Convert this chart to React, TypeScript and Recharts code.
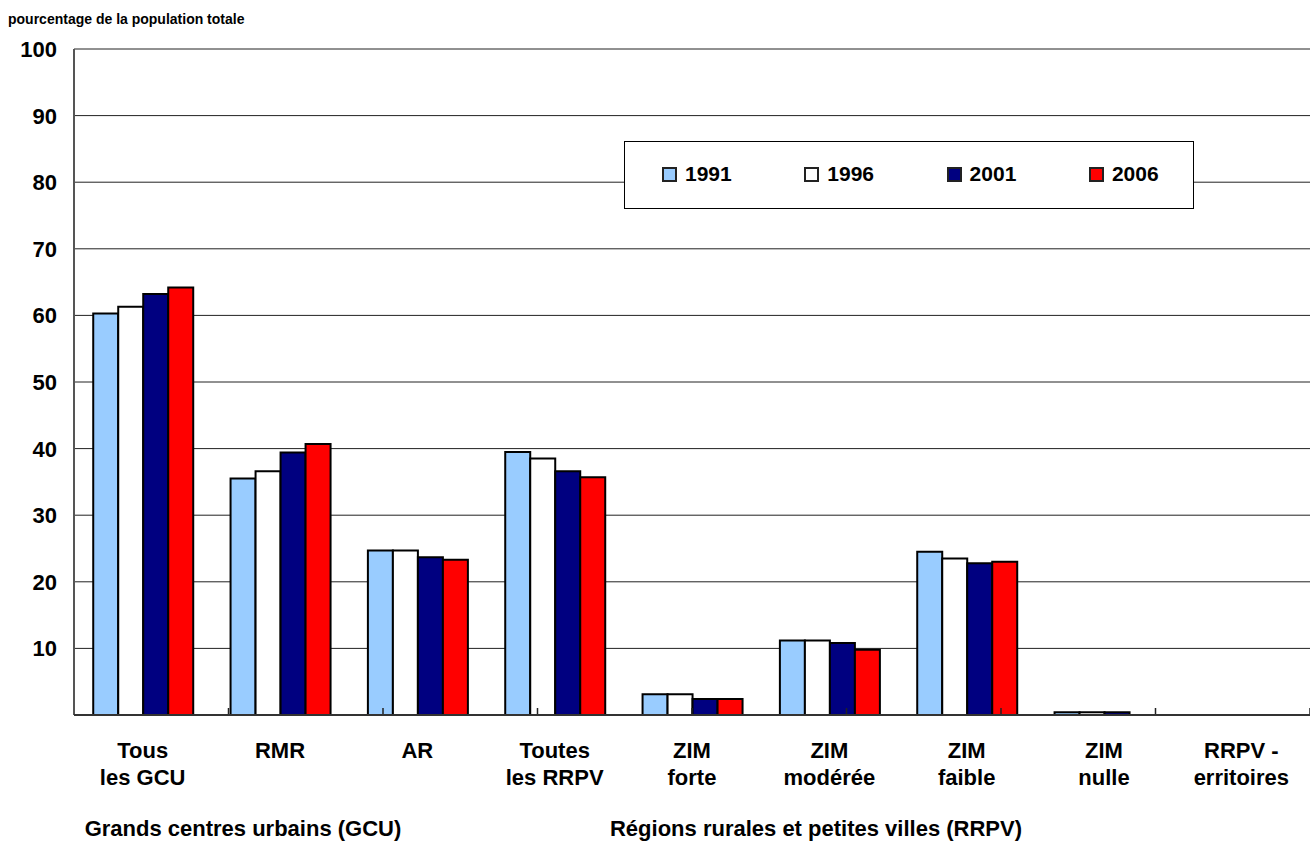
import React from "react";
import { BarChart, Bar, XAxis, YAxis, CartesianGrid } from "recharts";

// Catégories (deux lignes par étiquette)
const categoryLine1 = ["Tous", "RMR", "AR", "Toutes", "ZIM", "ZIM", "ZIM", "ZIM", "RRPV -"];
const categoryLine2 = ["les GCU", "", "", "les RRPV", "forte", "modérée", "faible", "nulle", "erritoires"];

// Pourcentage de la population totale par année
const v1991 = [60.3, 35.5, 24.7, 39.5, 3.1, 11.2, 24.5, 0.4, 0];
const v1996 = [61.3, 36.6, 24.7, 38.5, 3.1, 11.2, 23.5, 0.4, 0];
const v2001 = [63.2, 39.4, 23.7, 36.6, 2.4, 10.8, 22.8, 0.4, 0];
const v2006 = [64.2, 40.7, 23.3, 35.7, 2.4, 9.8, 23.0, 0, 0];

const yTicks = [10, 20, 30, 40, 50, 60, 70, 80, 90, 100];
const boundaryTicks = [1, 2, 3, 4, 5, 6, 7, 8];

const series = [
  { key: "y1991", name: "1991", color: "#99CCFF" },
  { key: "y1996", name: "1996", color: "#FFFFFF" },
  { key: "y2001", name: "2001", color: "#000080" },
  { key: "y2006", name: "2006", color: "#FF0000" },
];

const data = categoryLine1.map((l1, i) => ({
  cat: i,
  l1,
  l2: categoryLine2[i],
  y1991: v1991[i],
  y1996: v1996[i],
  y2001: v2001[i],
  y2006: v2006[i],
}));

const FONT = "'Liberation Sans', Arial, sans-serif";

const XTick = (props: any) => {
  const { x, y, payload } = props;
  const d = data[payload.value];
  return (
    <text x={x} y={y} textAnchor="middle" fontFamily={FONT} fontWeight="bold" fontSize={22} fill="#000">
      <tspan x={x} dy={35}>{d.l1}</tspan>
      {d.l2 && <tspan x={x} dy={27}>{d.l2}</tspan>}
    </text>
  );
};

const YTick = (props: any) => {
  const { x, y, payload } = props;
  return (
    <text x={x} y={y} dy={8} textAnchor="end" fontFamily={FONT} fontWeight="bold" fontSize={22} fill="#000">
      {payload.value}
    </text>
  );
};

const EmptyTick = () => <g />;

const App: React.FC = () => {
  return (
    <div style={{ position: "absolute", left: 0, top: 0, width: 1310, height: 867, fontFamily: FONT, background: "#fff" }}>
      <div style={{ position: "absolute", left: 8, top: 11, fontSize: 14, fontWeight: "bold" }}>
        pourcentage de la population totale
      </div>
      <BarChart
        width={1310}
        height={867}
        data={data}
        margin={{ top: 49, right: 0, bottom: 53, left: 0 }}
        barGap={0}
        barCategoryGap="14%"
      >
        <CartesianGrid horizontal vertical={false} stroke="#222" strokeWidth={1} />
        <YAxis
          type="number"
          domain={[0, 100]}
          ticks={yTicks}
          width={74}
          tickLine={false}
          tickSize={0}
          tickMargin={17}
          axisLine={{ stroke: "#555", strokeWidth: 2 }}
          tick={<YTick />}
        />
        <XAxis
          xAxisId="b"
          type="number"
          domain={[0, 9]}
          ticks={boundaryTicks}
          allowDataOverflow
          height={1}
          mirror
          tickSize={7}
          tick={<EmptyTick />}
          tickLine={{ stroke: "#222", strokeWidth: 1.5 }}
          axisLine={false}
        />
        <XAxis
          xAxisId="cat"
          dataKey="cat"
          height={99}
          tickLine={false}
          axisLine={{ stroke: "#333", strokeWidth: 2 }}
          tick={<XTick />}
          interval={0}
        />
        {series.map((s) => (
          <Bar
            key={s.key}
            xAxisId="cat"
            dataKey={s.key}
            name={s.name}
            fill={s.color}
            stroke="#000"
            strokeWidth={2}
            isAnimationActive={false}
          />
        ))}
      </BarChart>
      <div
        style={{
          position: "absolute",
          left: 624,
          top: 141,
          width: 570,
          height: 68,
          boxSizing: "border-box",
          border: "1px solid #000",
          background: "#fff",
        }}
      >
        {series.map((s, i) => (
          <div
            key={s.key}
            style={{
              position: "absolute",
              left: 37 + i * 142.3,
              top: 20,
              display: "flex",
              alignItems: "center",
              fontSize: 21,
              fontWeight: "bold",
            }}
          >
            <span
              style={{
                display: "inline-block",
                boxSizing: "border-box",
                width: 15,
                height: 15,
                border: "2px solid #222",
                background: s.color,
                marginRight: 8,
              }}
            />
            {s.name}
          </div>
        ))}
      </div>
      <div style={{ position: "absolute", left: 0, width: 486, top: 816, textAlign: "center", fontSize: 22, fontWeight: "bold" }}>
        Grands centres urbains (GCU)
      </div>
      <div style={{ position: "absolute", left: 603, width: 426, top: 816, textAlign: "center", fontSize: 22, fontWeight: "bold" }}>
        Régions rurales et petites villes (RRPV)
      </div>
    </div>
  );
};

export default App;
